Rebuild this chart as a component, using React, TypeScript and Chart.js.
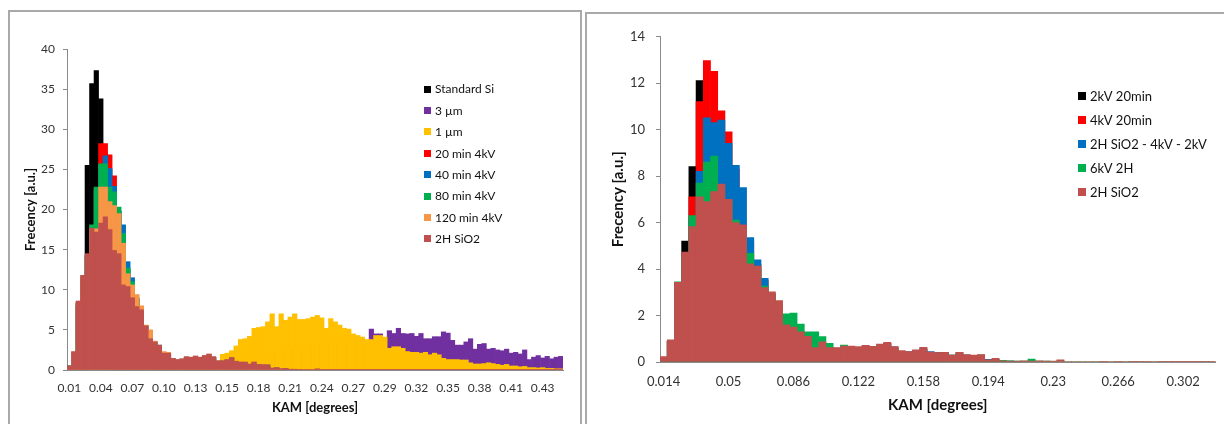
import React, { useEffect, useRef } from 'react';
import { Chart, registerables } from 'chart.js';

Chart.register(...registerables);

const FONT = 'Lato, "Noto Sans", "DejaVu Sans", sans-serif';
const AXIS = '#8a8a8a';
const TICK_TEXT = '#333333';

// ---------------- Left panel data (110 bins, label every 7 bins) ----------------
const leftTickLabels = ['0.01', '0.04', '0.07', '0.10', '0.13', '0.15', '0.18', '0.21', '0.24', '0.27', '0.29', '0.32', '0.35', '0.38', '0.41', '0.43'];
const leftBinsPerLabel = 7;
const leftBinCount = 110;
const leftNames = ['Standard Si', '3 µm', '1 µm', '20 min 4kV', '40 min 4kV', '80 min 4kV', '120 min 4kV', '2H SiO2'];
const leftColors = ['#000000', '#7030A0', '#FFC000', '#FF0000', '#0070C0', '#00B050', '#F79646', '#C0504D'];

const standardSi = [0.4, 2.0, 8.0, 11.2, 25.5, 35.7, 37.3, 33.8, 27.0, 24.0, 21.0, 18.0, 14.0, 10.0, 8.5, 7.5, 7.0, 5.0, 3.6, 3.0, 2.6, 2.0, 1.9, 1.3, 1.2, 1.3, 1.5, 1.4, 1.6, 1.5, 1.6, 1.8, 1.5, 1.0, 1.0, 1.2, 1.4, 1.0, 0.9, 0.9, 0.7, 0.9, 0.6, 0.6, 0.5, 0.2, 0.2, 0.1, 0.1, 0.08];
const um3 = [0, 0, 0, 0, 0, 0, 0, 0, 0, 0, 0, 0, 0, 0, 0, 0, 0, 0, 0, 0, 0.05, 0.1, 0.1, 0.15, 0.2, 0.25, 0.3, 0.35, 0.4, 0.5,
  0.5, 0.6, 0.7, 0.75, 0.9, 1.0, 1.05, 1.2, 1.3, 1.4, 1.55, 1.7, 1.8, 1.9, 2.0, 2.15, 2.2, 2.3, 2.45, 2.5, 2.6, 2.75, 2.8, 2.9, 3.0, 3.1, 3.2, 3.3, 3.3, 3.4,
  3.5, 3.6, 3.4, 3.8, 3.9, 3.7, 3.7, 5.1, 4.5, 4.5, 4.0, 4.9, 4.55, 5.2, 4.55, 4.5, 4.55, 4.2, 4.55, 3.9, 3.9, 4.15, 4.15, 4.75, 4.6, 3.7, 3.1, 3.1, 3.5, 3.9, 2.6, 3.2, 3.3,
  2.6, 2.7, 2.5, 2.4, 2.6, 2.1, 2.2, 2.0, 2.5, 1.3, 1.6, 1.8, 1.5, 1.7, 1.4, 1.6, 1.7];
const um1 = [0, 0, 0, 0, 0, 0, 0, 0, 0, 0, 0, 0, 0, 0.05, 0.05, 0.1, 0.1, 0.1, 0.15, 0.2, 0.2, 0.25, 0.3, 0.35, 0.4,
  0.45, 0.5, 0.6, 0.7, 0.8, 0.9, 1.0, 1.1, 1.1,
  1.95, 2.1, 2.4, 3.0, 3.8, 3.9, 4.2, 5.2, 5.3, 5.4, 6.0, 7.0, 5.4, 7.0, 6.2, 6.6, 7.0, 6.3, 6.3, 6.4, 6.6, 6.8,
  6.5, 5.2, 6.4, 6.0, 5.6, 5.2, 5.1, 4.5, 4.3, 4.1, 3.8, 3.8, 4.3, 4.3, 4.1, 2.7, 2.9, 2.9, 2.7, 2.3, 2.2, 2.2, 2.1, 2.2, 1.9, 2.1, 1.9, 1.45, 1.3, 1.3, 1.3, 1.25, 1.25, 0.9, 0.75, 0.75, 0.8,
  0.9, 0.8, 0.7, 0.6, 0.7, 0.5, 0.5, 0.4, 0.45, 0.3, 0.3, 0.25, 0.3, 0.2, 0.2, 0.15, 0.15];
const min20 = [0.5, 2.1, 8.3, 11.5, 14.2, 18.0, 22.6, 28.2, 28.2, 26.8, 24.2, 19.8, 16.5, 12.5, 10.8, 8.8, 7.4, 5.4, 3.9, 3.3, 2.9, 2.0, 2.0, 1.4, 1.2, 1.3, 1.6, 1.5, 1.6, 1.5, 1.7, 1.9, 1.6, 1.1, 1.1, 1.2, 1.5, 1.0, 0.9, 0.95, 0.7, 0.9, 0.65, 0.6, 0.6, 0.2, 0.25, 0.1, 0.15, 0.08];
const min40 = [0.5, 2.2, 8.2, 11.4, 14.1, 17.9, 22.5, 25.5, 26.7, 25.1, 22.9, 19.8, 18.1, 13.5, 11.5, 9.0, 7.6, 5.5, 4.0, 3.5, 3.1, 2.1, 2.0, 1.4, 1.25, 1.35, 1.6, 1.55, 1.7, 1.55, 1.75, 1.9, 1.6, 1.1, 1.1, 1.25, 1.5, 1.05, 0.95, 0.95, 0.7, 0.95, 0.65, 0.6, 0.6, 0.2, 0.25, 0.1, 0.15, 0.08];
const min80 = [0.5, 2.2, 8.4, 11.6, 14.3, 18.1, 22.8, 25.7, 25.7, 22.8, 22.2, 20.3, 17.0, 12.7, 11.0, 9.0, 7.7, 5.5, 4.0, 3.5, 3.0, 2.2, 2.0, 1.4, 1.2, 1.3, 1.6, 1.5, 1.7, 1.5, 1.7, 1.9, 1.6, 1.1, 1.1, 1.2, 1.5, 1.0, 0.95, 0.9, 0.7, 0.95, 0.65, 0.6, 0.6, 0.2, 0.25, 0.1, 0.15, 0.08];
const min120 = [0.4, 2.2, 8.4, 11.6, 14.2, 17.5, 17.6, 22.8, 22.8, 21.0, 20.5, 19.5, 15.8, 12.0, 10.6, 9.4, 8.0, 5.6, 5.0, 3.6, 3.0, 2.3, 2.2, 1.4, 1.25, 1.35, 1.6, 1.55, 1.7, 1.55, 1.75, 1.95, 1.6, 1.1, 1.1, 1.25, 1.5, 1.05, 0.95, 0.95, 0.7, 0.95, 0.65, 0.6, 0.6, 0.2, 0.25, 0.1, 0.15, 0.08];
const sio2Left = [0.5, 2.3, 8.6, 11.8, 14.5, 17.7, 17.2, 18.3, 19.1, 17.5, 14.9, 14.5, 10.6, 10.4, 9.0, 7.9, 7.5, 5.5, 3.9, 3.5,
  3.1, 2.1, 2.1, 1.45, 1.3, 1.4, 1.65, 1.6, 1.75, 1.6, 1.8, 2.0, 1.65, 1.15, 1.15, 1.3, 1.55, 1.1, 1.0, 1.0,
  0.75, 1.0, 0.7, 0.65, 0.65, 0.25, 0.3, 0.15, 0.2, 0.1, 0.1, 0.08, 0.06, 0.05, 0.06, 0.15, 0.05, 0.04, 0.04, 0.03,
  0.03, 0.03, 0.02, 0.03, 0.02, 0.02, 0.03, 0.02, 0.02, 0.02, 0.02, 0.02, 0.02, 0.02, 0.02, 0.02, 0.02, 0.02, 0.02, 0.02,
  0.02, 0.02, 0.02, 0.02, 0.02, 0.02, 0.02, 0.02, 0.02, 0.02, 0.02, 0.02, 0.02, 0.02, 0.02, 0.02, 0.02, 0.02, 0.02, 0.02,
  0.02, 0.02, 0.02, 0.02, 0.02, 0.02, 0.02, 0.02, 0.02, 0.02];
const leftSeries = [standardSi, um3, um1, min20, min40, min80, min120, sio2Left];

// ---------------- Right panel data (77 bins, label every 9 bins) ----------------
const rightTickLabels = ['0.014', '0.05', '0.086', '0.122', '0.158', '0.194', '0.23', '0.266', '0.302'];
const rightBinsPerLabel = 9;
const rightBinCount = 77;
const rightNames = ['2kV 20min', '4kV 20min', '2H SiO2 - 4kV - 2kV', '6kV 2H', '2H SiO2'];
const rightColors = ['#000000', '#FF0000', '#0070C0', '#00B050', '#C0504D'];

const kv2min20 = [0.2, 0.9, 3.3, 5.2, 8.4, 12.1, 10.0, 9.5, 8.0, 7.0, 6.0, 5.0, 4.0, 3.5, 3.0, 2.8, 2.4, 1.5, 1.4, 1.2, 1.0, 0.6, 0.8, 0.6, 0.5, 0.6, 0.6, 0.6, 0.6, 0.6];
const kv4min20 = [0.2, 0.9, 3.3, 4.6, 7.1, 11.2, 12.96, 12.5, 10.8, 9.9, 8.3, 5.95, 5.2, 4.2, 3.5, 2.9, 2.5, 1.5, 1.4, 1.2, 1.0, 0.6, 0.8, 0.6, 0.55, 0.6, 0.6, 0.6, 0.65, 0.6, 0.7, 0.8, 0.6, 0.45, 0.4, 0.5, 0.55, 0.4, 0.4, 0.4];
const sio2kv = [0.2, 0.9, 3.3, 4.6, 6.1, 8.2, 10.5, 10.3, 10.4, 9.4, 8.46, 7.5, 5.35, 4.39, 3.6, 2.9, 2.5, 1.5, 1.4, 1.2, 1.0, 0.6, 0.8, 0.6, 0.55, 0.65, 0.65, 0.6, 0.7, 0.6, 0.7, 0.8, 0.65, 0.45, 0.45, 0.5, 0.6, 0.45, 0.4, 0.4, 0.3, 0.4, 0.3, 0.28, 0.3, 0.11, 0.12, 0.05, 0.04, 0.03];
const kv6h2 = [0.2, 0.9, 3.45, 4.6, 6.3, 7.7, 8.6, 8.86, 7.5, 6.9, 6.1, 5.8, 4.67, 4.0, 3.27, 2.95, 2.6, 2.07, 2.1, 1.63,
  1.3, 1.3, 1.09, 0.8, 0.6, 0.73, 0.6, 0.6, 0.65, 0.6, 0.7, 0.75, 0.6, 0.45, 0.4, 0.45, 0.55, 0.4, 0.35, 0.4,
  0.3, 0.35, 0.3, 0.25, 0.3, 0.05, 0.1, 0.07, 0.05, 0.04, 0.04, 0.13, 0.04, 0.04, 0.03, 0.05, 0.02, 0.02, 0.02, 0.02,
  0.02, 0.02, 0.02, 0.02, 0.02, 0.02, 0.02, 0.02, 0.02, 0.02, 0.02, 0.02, 0.02, 0.02, 0.02, 0.02, 0.02];
const sio2Right = [0.23, 0.95, 3.43, 4.73, 5.82, 7.1, 6.9, 7.33, 7.65, 7.0, 6.0, 5.9, 4.22, 4.13, 3.2, 3.02, 2.64, 1.6, 1.5, 1.3,
  1.1, 0.62, 0.87, 0.62, 0.62, 0.69, 0.69, 0.66, 0.72, 0.67, 0.77, 0.85, 0.66, 0.49, 0.45, 0.52, 0.63, 0.43, 0.4, 0.42,
  0.3, 0.42, 0.32, 0.3, 0.32, 0.09, 0.16, 0.05, 0.04, 0.04, 0.05, 0.04, 0.05, 0.04, 0.04, 0.09, 0.02, 0.02, 0.02, 0.02,
  0.02, 0.01, 0.02, 0.01, 0.02, 0.01, 0.01, 0.01, 0.02, 0.01, 0.01, 0.01, 0.01, 0.01, 0.01, 0.01, 0.01];
const rightSeries = [kv2min20, kv4min20, sio2kv, kv6h2, sio2Right];

type LegendOpts = { x: number; y: number; gap: number; box: number; font: string; items: { label: string; color: string }[] };

const boxLegend = {
  id: 'boxLegend',
  afterDraw(chart: any, _args: any, opts: LegendOpts) {
    const ctx = chart.ctx as CanvasRenderingContext2D;
    ctx.save();
    ctx.font = opts.font;
    ctx.textBaseline = 'middle';
    ctx.textAlign = 'left';
    opts.items.forEach((it, i) => {
      const cy = opts.y + i * opts.gap;
      ctx.fillStyle = it.color;
      ctx.fillRect(opts.x, Math.round(cy - opts.box / 2), opts.box, opts.box);
      ctx.fillStyle = '#111111';
      ctx.fillText(it.label, opts.x + opts.box + 4, cy + 0.5);
    });
    ctx.restore();
  },
};

type PanelProps = {
  left: number; top: number; width: number; height: number;
  names: string[]; colors: string[]; series: number[][];
  binCount: number; tickLabels: string[]; perLabel: number;
  yMax: number; yStep: number;
  pad: { top: number; right: number };
  yWidth: number; xHeight: number;
  tickFont: number; titleFont: number;
  yTickPad: number; yTitlePad: number; xTickPad: number; xTitlePad: number;
  legend: LegendOpts;
};

function Panel(p: PanelProps) {
  const ref = useRef<HTMLCanvasElement | null>(null);
  useEffect(() => {
    if (!ref.current) return;
    const labels = Array.from({ length: p.binCount }, (_, i) => String(i));
    const chart = new Chart(ref.current, {
      type: 'bar',
      data: {
        labels,
        datasets: p.names.map((n, i) => ({
          label: n,
          data: p.series[i],
          backgroundColor: p.colors[i],
          borderWidth: 0,
          grouped: false,
          barPercentage: 1,
          categoryPercentage: 1,
          order: p.names.length - i,
        })) as any,
      },
      options: {
        animation: false,
        responsive: false,
        maintainAspectRatio: false,
        events: [],
        layout: { padding: { top: p.pad.top, right: p.pad.right, left: 0, bottom: 0 } },
        plugins: {
          legend: { display: false },
          tooltip: { enabled: false },
          boxLegend: p.legend,
        } as any,
        scales: {
          x: {
            type: 'category',
            offset: true,
            grid: { display: false, drawTicks: false },
            border: { display: true, color: AXIS, width: 1 },
            ticks: {
              autoSkip: false,
              maxRotation: 0,
              minRotation: 0,
              padding: p.xTickPad,
              color: TICK_TEXT,
              font: { family: FONT, size: p.tickFont },
              callback: (_v: any, i: number) => (i % p.perLabel === 0 ? p.tickLabels[i / p.perLabel] ?? '' : ''),
            },
            title: {
              display: true,
              text: 'KAM [degrees]',
              color: '#111111',
              font: { family: FONT, size: p.titleFont, weight: 'bold' },
              padding: { top: 0, bottom: p.xTitlePad },
            },
            afterFit: (s: any) => { s.height = p.xHeight; },
          },
          y: {
            min: 0,
            max: p.yMax,
            ticks: {
              stepSize: p.yStep,
              padding: p.yTickPad,
              color: TICK_TEXT,
              font: { family: FONT, size: p.tickFont },
            },
            grid: { display: true, drawOnChartArea: false, drawTicks: true, tickLength: 4, color: AXIS },
            border: { display: true, color: AXIS, width: 1 },
            title: {
              display: true,
              text: 'Frecency [a.u.]',
              color: '#111111',
              font: { family: FONT, size: p.titleFont, weight: 'bold' },
              padding: { top: p.yTitlePad, bottom: 0 },
            },
            afterFit: (s: any) => { s.width = p.yWidth; },
          },
        },
      } as any,
      plugins: [boxLegend as any],
    });
    return () => chart.destroy();
  }, []);
  return (
    <canvas
      ref={ref}
      width={p.width}
      height={p.height}
      style={{ position: 'absolute', left: p.left, top: p.top, width: p.width, height: p.height }}
    />
  );
}

export default function App() {
  const frame = '2px solid #a9a9a9';
  return (
    <div style={{ position: 'fixed', left: 0, top: 0, width: 1224, height: 424, overflow: 'hidden', background: '#ffffff' }}>
      <div style={{ position: 'absolute', left: 8, top: 10, width: 574, height: 440, border: frame, boxSizing: 'border-box' }} />
      <div style={{ position: 'absolute', left: 585, top: 12, width: 700, height: 440, border: frame, boxSizing: 'border-box' }} />
      <Panel
        left={10} top={12} width={568} height={412}
        names={leftNames} colors={leftColors} series={leftSeries}
        binCount={leftBinCount} tickLabels={leftTickLabels} perLabel={leftBinsPerLabel}
        yMax={40} yStep={5}
        pad={{ top: 37, right: 15 }}
        yWidth={57} xHeight={54}
        tickFont={12} titleFont={13}
        yTickPad={8} yTitlePad={13} xTickPad={11} xTitlePad={8}
        legend={{
          x: 414, y: 77, gap: 21.4, box: 7, font: `12px ${FONT}`,
          items: leftNames.map((n, i) => ({ label: n, color: leftColors[i] })),
        }}
      />
      <Panel
        left={587} top={14} width={637} height={410}
        names={rightNames} colors={rightColors} series={rightSeries}
        binCount={rightBinCount} tickLabels={rightTickLabels} perLabel={rightBinsPerLabel}
        yMax={14} yStep={2}
        pad={{ top: 22.5, right: 4 }}
        yWidth={73} xHeight={62}
        tickFont={13} titleFont={15}
        yTickPad={11} yTitlePad={22} xTickPad={12} xTitlePad={10}
        legend={{
          x: 491, y: 82, gap: 24, box: 8, font: `13px ${FONT}`,
          items: rightNames.map((n, i) => ({ label: n, color: rightColors[i] })),
        }}
      />
    </div>
  );
}
